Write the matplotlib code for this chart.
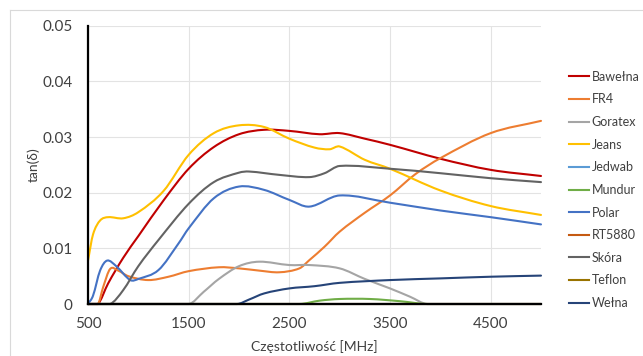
import matplotlib
matplotlib.use("Agg")
import matplotlib.pyplot as plt
import numpy as np
from matplotlib.lines import Line2D
from matplotlib.path import Path
from matplotlib.patches import PathPatch

plt.rcParams['font.family'] = ['Lato', 'DejaVu Sans']

# Data (frequency in MHz, tan(delta))
f_bawelna = [500, 600, 700, 850, 1000, 1250, 1500, 1750, 2000, 2250, 2500, 2800, 3000, 3250, 3500, 4000, 4500, 5000]
v_bawelna = [0, 0, 0.0037, 0.0083, 0.0122, 0.0186, 0.0243, 0.0282, 0.0305, 0.0313, 0.0311, 0.0305, 0.0307, 0.0297, 0.0286, 0.0261, 0.0241, 0.0230]

f_fr4 = [500, 600, 650, 720, 800, 900, 1100, 1300, 1500, 1800, 2000, 2200, 2400, 2600, 2700, 2850, 3000, 3250, 3500, 3750, 4000, 4500, 5000]
v_fr4 = [0, 0, 0.0030, 0.0063, 0.0060, 0.0050, 0.0043, 0.0049, 0.0059, 0.0066, 0.0064, 0.0060, 0.0057, 0.0064, 0.0079, 0.0103, 0.0130, 0.0164, 0.0195, 0.0233, 0.0262, 0.0307, 0.0329]

f_goratex = [500, 1500, 1650, 1800, 2000, 2200, 2500, 2700, 3000, 3250, 3500, 3700, 3870, 5000]
v_goratex = [0, 0, 0.0022, 0.0045, 0.0068, 0.0076, 0.0070, 0.0070, 0.0064, 0.0045, 0.0028, 0.0013, 0, 0]

f_jeans = [500, 550, 620, 700, 850, 1000, 1250, 1500, 1750, 2000, 2250, 2500, 2750, 2900, 3000, 3250, 3500, 4000, 4500, 5000]
v_jeans = [0.0078, 0.0125, 0.0150, 0.0156, 0.0154, 0.0165, 0.0203, 0.0268, 0.0307, 0.0321, 0.0318, 0.0297, 0.0281, 0.0278, 0.0283, 0.0259, 0.0243, 0.0204, 0.0176, 0.0160]

f_jedwab = [500, 5000]
v_jedwab = [0, 0]

f_mundur = [500, 2600, 2800, 3000, 3300, 3600, 3870, 5000]
v_mundur = [0, 0, 0.0006, 0.0009, 0.0009, 0.0005, 0, 0]

f_polar = [500, 550, 620, 690, 780, 920, 1000, 1200, 1400, 1500, 1750, 2000, 2250, 2500, 2700, 3000, 3500, 4000, 4500, 5000]
v_polar = [0, 0.0015, 0.0060, 0.0078, 0.0068, 0.0043, 0.0045, 0.0061, 0.0109, 0.0136, 0.0190, 0.0211, 0.0205, 0.0187, 0.0175, 0.0195, 0.0182, 0.0168, 0.0156, 0.0143]

f_rt5880 = [500, 5000]
v_rt5880 = [0, 0]

f_skora = [500, 720, 850, 1000, 1200, 1500, 1750, 2000, 2100, 2400, 2700, 2850, 3000, 3500, 4000, 4500, 5000]
v_skora = [0, 0, 0.0025, 0.0068, 0.0115, 0.0180, 0.0219, 0.0236, 0.0238, 0.0232, 0.0228, 0.0235, 0.0248, 0.0243, 0.0235, 0.0226, 0.0219]

f_teflon = [500, 5000]
v_teflon = [0, 0]

f_welna = [500, 1980, 2100, 2250, 2500, 2750, 3000, 3500, 4000, 4500, 5000]
v_welna = [0, 0, 0.0008, 0.0019, 0.0028, 0.0032, 0.0038, 0.0043, 0.0046, 0.0049, 0.0051]

names = ["Bawełna", "FR4", "Goratex", "Jeans", "Jedwab", "Mundur", "Polar", "RT5880", "Skóra", "Teflon", "Wełna"]
series = [(f_bawelna, v_bawelna), (f_fr4, v_fr4), (f_goratex, v_goratex), (f_jeans, v_jeans),
          (f_jedwab, v_jedwab), (f_mundur, v_mundur), (f_polar, v_polar), (f_rt5880, v_rt5880),
          (f_skora, v_skora), (f_teflon, v_teflon), (f_welna, v_welna)]
colors = ["#c00000", "#ed7d31", "#a5a5a5", "#ffc000", "#5b9bd5", "#70ad47",
          "#4472c4", "#c55a11", "#636363", "#997300", "#264478"]

x_ticks = [500, 1500, 2500, 3500, 4500]
y_ticks = [0, 0.01, 0.02, 0.03, 0.04, 0.05]
y_labels = ["0", "0.01", "0.02", "0.03", "0.04", "0.05"]


def smooth_path(x, y):
    # smoothed line like the spreadsheet: cubic bezier pieces through every point
    x = np.asarray(x, float)
    y = np.asarray(y, float)
    n = len(x)
    if n < 3:
        return Path(np.column_stack([x, y]))
    m = np.empty(n)
    m[1:-1] = (y[2:] - y[:-2]) / (x[2:] - x[:-2])
    m[0] = (y[1] - y[0]) / (x[1] - x[0])
    m[-1] = (y[-1] - y[-2]) / (x[-1] - x[-2])
    verts = [(x[0], y[0])]
    codes = [Path.MOVETO]
    for i in range(n - 1):
        h = x[i + 1] - x[i]
        c1 = (x[i] + h / 3, max(y[i] + m[i] * h / 3, 0))
        c2 = (x[i + 1] - h / 3, max(y[i + 1] - m[i + 1] * h / 3, 0))
        verts += [c1, c2, (x[i + 1], y[i + 1])]
        codes += [Path.CURVE4] * 3
    return Path(verts, codes)


fig = plt.figure(figsize=(6.43, 3.56), dpi=100)
ax = fig.add_axes([88 / 643, 1 - 304 / 356, (541 - 88) / 643, (304 - 25.7) / 356])

for (fx, vy), c in zip(series, colors):
    ax.add_patch(PathPatch(smooth_path(fx, vy), fill=False, edgecolor=c, lw=1.5,
                           clip_on=False, capstyle='round', joinstyle='round'))

ax.set_xlim(500, 5000)
ax.set_ylim(0, 0.05)
ax.set_xticks(x_ticks)
ax.set_yticks(y_ticks)
ax.set_yticklabels(y_labels)
ax.tick_params(length=0, labelsize=11, colors="#404040")
ax.tick_params(axis='y', pad=11)
ax.tick_params(axis='x', pad=9)
ax.grid(True, color="#e3e3e3", lw=0.8)
ax.set_axisbelow(True)
for s in ["top", "right"]:
    ax.spines[s].set_visible(False)
ax.spines["left"].set_color("black")
ax.spines["left"].set_linewidth(1.6)
ax.spines["bottom"].set_color("black")
ax.spines["bottom"].set_linewidth(1.6)

ax.set_xlabel("Częstotliwość [MHz]", fontsize=10, color="#404040", labelpad=7)
ax.set_ylabel("tan(δ)", fontsize=10, color="#404040", labelpad=2)

handles = [Line2D([0], [0], color=c, lw=1.5) for c in colors]
ax.legend(handles, names, loc="center left", bbox_to_anchor=(1.037, 0.41), frameon=False,
          fontsize=9, handlelength=1.6, handletextpad=0.2, labelspacing=0.85,
          labelcolor="#404040")

# chart area border like the spreadsheet export
fig.add_artist(Line2D([10 / 643, 1], [1 - 10 / 356, 1 - 10 / 356], color="#d9d9d9", lw=0.8))
fig.add_artist(Line2D([10 / 643, 10 / 643], [0, 1 - 10 / 356], color="#d9d9d9", lw=0.8))

fig.savefig("out.png", dpi=100)
